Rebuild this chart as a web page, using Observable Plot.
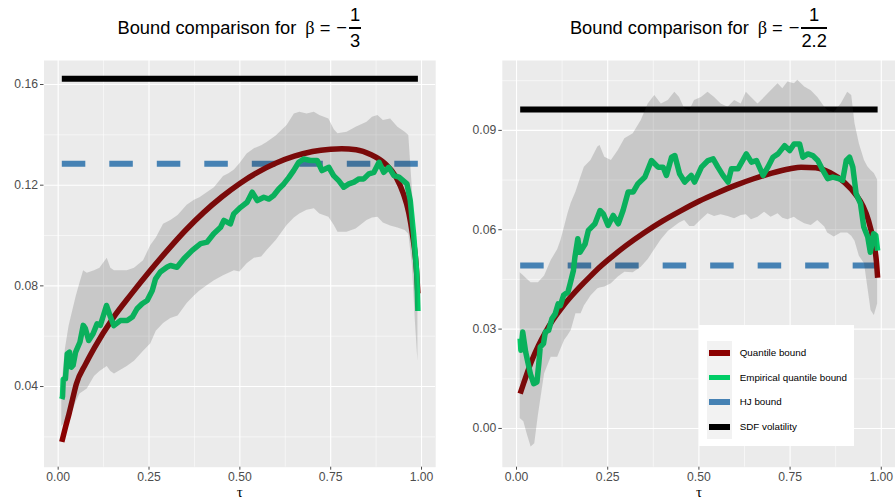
<!DOCTYPE html>
<html><head><meta charset="utf-8">
<script src="https://cdn.jsdelivr.net/npm/d3@7"></script>
<script src="https://cdn.jsdelivr.net/npm/@observablehq/plot@0.6"></script>
<style>
body{margin:0;background:#fff;font-family:"Liberation Sans",Arial,sans-serif;}
#wrap{position:relative;width:895px;height:501px;overflow:hidden;background:#fff}
.title{position:absolute;top:0;height:56px;display:flex;justify-content:center;align-items:center;font-size:18.3px;color:#000;white-space:nowrap}
.sym{font-family:"Liberation Serif","DejaVu Serif",serif;margin-left:9px}
.eq{margin-left:5px}
.minus{margin-left:6px}
.frac{display:inline-flex;flex-direction:column;align-items:center;margin-left:2px}
.frac .num{line-height:1;padding:0 1px 3px}
.frac .bar{align-self:stretch;height:1.2px;background:#000}
.frac .den{line-height:1;padding-top:3px}
.plot{position:absolute;top:60px}
#legend{position:absolute;left:699px;top:325px;width:155px;height:121px;background:#fff}
#legend .keycol{position:absolute;left:8px;top:15.7px;width:25px;height:98px;background:#F2F2F2}
#legend .key{position:absolute;left:10px;width:21px;height:5.5px}
#legend .lab{position:absolute;left:40.7px;font-size:9.8px;line-height:12px;color:#000;white-space:nowrap}
</style>
</head><body>
<div id="wrap">
  <div class="title" id="t1" style="left:43.5px;width:391.7px"></div>
  <div class="title" id="t2" style="left:501.8px;width:393.2px"></div>
  <div class="plot" id="p1" style="left:0"></div>
  <div class="plot" id="p2" style="left:447px"></div>
  <div id="legend"><div class="keycol"></div></div>
</div>
<script>
// ---------- data ----------
const titleText = "Bound comparison for";
const betaDenoms = ["3", "2.2"];
const xTicks = [0, 0.25, 0.5, 0.75, 1];
const xMinor = [0.125, 0.375, 0.625, 0.875];
const tauRange = [0.01, 0.99];

const yTicksL = [0.04, 0.08, 0.12, 0.16];
const yMinorL = [0.02, 0.06, 0.10, 0.14];
const yTicksR = [0.00, 0.03, 0.06, 0.09];
const yMinorR = [0.015, 0.045, 0.075, 0.105];

const sdfLeft = 0.1623, hjLeft = 0.1285;
const sdfRight = 0.0963, hjRight = 0.0492;

const legendItems = ["Quantile bound", "Empirical quantile bound", "HJ bound", "SDF volatility"];
const legendColors = ["#8B0000", "#00CD66", "#4682B4", "#000000"];

const quantileLeft = [[0.01,0.018],[0.02,0.0238],[0.03,0.0292],[0.04,0.0352],[0.05,0.041],[0.075,0.0488],[0.10,0.0555],[0.15,0.067],[0.20,0.0765],[0.25,0.0855],[0.30,0.094],[0.35,0.102],[0.40,0.1091],[0.45,0.1153],[0.50,0.1207],[0.55,0.1252],[0.60,0.1288],[0.65,0.1315],[0.70,0.1334],[0.75,0.1343],[0.78,0.1345],[0.82,0.1341],[0.86,0.1322],[0.90,0.1285],[0.93,0.1232],[0.95,0.1166],[0.965,0.109],[0.975,0.1005],[0.985,0.0885],[0.99,0.077]];

const empiricalLeft = [[0.01,0.035],[0.012,0.036],[0.014,0.0429],[0.02,0.0431],[0.025,0.053],[0.031,0.0537],[0.036,0.0477],[0.041,0.0484],[0.048,0.0537],[0.06,0.0577],[0.069,0.0643],[0.075,0.063],[0.084,0.0583],[0.096,0.061],[0.107,0.0649],[0.116,0.0643],[0.126,0.0689],[0.133,0.0722],[0.144,0.0676],[0.153,0.0642],[0.171,0.0662],[0.19,0.0662],[0.204,0.0676],[0.217,0.0709],[0.231,0.0729],[0.245,0.0742],[0.259,0.0782],[0.268,0.0828],[0.281,0.0855],[0.30,0.0875],[0.309,0.0881],[0.327,0.0874],[0.346,0.0908],[0.369,0.0941],[0.392,0.0968],[0.41,0.0974],[0.428,0.1007],[0.447,0.1033],[0.456,0.106],[0.474,0.1046],[0.483,0.1086],[0.502,0.1112],[0.52,0.1132],[0.534,0.1172],[0.548,0.1139],[0.566,0.1152],[0.58,0.1145],[0.593,0.1159],[0.607,0.1185],[0.621,0.1205],[0.635,0.1231],[0.648,0.1258],[0.662,0.1291],[0.676,0.1304],[0.694,0.1298],[0.713,0.1298],[0.726,0.1258],[0.745,0.1271],[0.758,0.1238],[0.772,0.1218],[0.786,0.1192],[0.80,0.1205],[0.814,0.1212],[0.828,0.1225],[0.841,0.1225],[0.855,0.1245],[0.869,0.1251],[0.883,0.1291],[0.896,0.1251],[0.91,0.1271],[0.924,0.1238],[0.938,0.1232],[0.96,0.1205],[0.969,0.1139],[0.978,0.1007],[0.987,0.0848],[0.99,0.070]];

// [tau, lower, upper]
const ribbonLeft = [[0.01,0.024,0.040],[0.02,0.026,0.055],[0.03,0.027,0.064],[0.04,0.030,0.070],[0.05,0.034,0.076],[0.06,0.037,0.081],[0.07,0.038,0.086],[0.08,0.039,0.085],[0.10,0.044,0.086],[0.115,0.046,0.087],[0.135,0.048,0.091],[0.145,0.046,0.087],[0.155,0.045,0.086],[0.19,0.048,0.086],[0.21,0.050,0.087],[0.235,0.054,0.090],[0.255,0.057,0.096],[0.27,0.062,0.099],[0.29,0.065,0.1045],[0.31,0.067,0.106],[0.33,0.068,0.108],[0.355,0.073,0.112],[0.375,0.076,0.114],[0.39,0.078,0.115],[0.41,0.080,0.117],[0.43,0.082,0.119],[0.455,0.084,0.1235],[0.47,0.085,0.1245],[0.485,0.086,0.126],[0.50,0.0855,0.1285],[0.52,0.0888,0.1324],[0.54,0.091,0.1345],[0.56,0.0915,0.1357],[0.575,0.094,0.137],[0.60,0.098,0.1395],[0.63,0.104,0.1437],[0.65,0.107,0.1483],[0.665,0.1086,0.149],[0.685,0.110,0.1483],[0.705,0.1106,0.149],[0.72,0.1086,0.1477],[0.745,0.1073,0.1463],[0.76,0.104,0.142],[0.77,0.1013,0.1404],[0.795,0.1013,0.141],[0.82,0.1026,0.143],[0.85,0.106,0.145],[0.865,0.107,0.147],[0.88,0.1073,0.1477],[0.895,0.105,0.1457],[0.915,0.1038,0.1463],[0.935,0.103,0.143],[0.955,0.102,0.141],[0.965,0.1005,0.1397],[0.975,0.088,0.118],[0.983,0.066,0.095],[0.99,0.050,0.078]];

const quantileRight = [[0.01,0.0105],[0.02,0.0138],[0.04,0.020],[0.06,0.025],[0.08,0.0292],[0.10,0.0328],[0.125,0.0366],[0.15,0.0399],[0.175,0.0429],[0.20,0.0457],[0.23,0.0489],[0.262,0.0519],[0.30,0.0552],[0.35,0.0591],[0.40,0.0626],[0.45,0.0657],[0.50,0.0686],[0.55,0.0711],[0.60,0.0734],[0.65,0.0754],[0.70,0.0771],[0.75,0.0784],[0.78,0.0789],[0.82,0.0787],[0.86,0.0772],[0.90,0.0742],[0.93,0.0706],[0.95,0.0671],[0.965,0.0628],[0.978,0.0568],[0.987,0.0500],[0.99,0.0455]];

const empiricalRight = [[0.01,0.0271],[0.012,0.0236],[0.017,0.0291],[0.025,0.0231],[0.038,0.0165],[0.047,0.0135],[0.056,0.014],[0.061,0.0195],[0.065,0.0246],[0.074,0.0256],[0.079,0.0291],[0.088,0.0296],[0.097,0.0331],[0.106,0.0346],[0.114,0.0376],[0.12,0.0371],[0.129,0.0402],[0.141,0.0412],[0.147,0.0437],[0.156,0.0477],[0.160,0.0517],[0.168,0.0573],[0.174,0.0532],[0.188,0.0557],[0.197,0.0598],[0.215,0.0618],[0.229,0.0658],[0.238,0.0648],[0.251,0.0613],[0.265,0.0643],[0.279,0.0618],[0.292,0.0658],[0.306,0.0714],[0.32,0.0714],[0.333,0.0739],[0.352,0.0759],[0.37,0.0809],[0.388,0.0789],[0.402,0.0789],[0.411,0.0764],[0.425,0.0819],[0.434,0.0824],[0.447,0.0769],[0.461,0.0744],[0.479,0.0764],[0.488,0.0744],[0.507,0.0789],[0.525,0.0809],[0.539,0.0814],[0.552,0.0789],[0.566,0.0764],[0.58,0.0744],[0.589,0.0784],[0.607,0.0784],[0.63,0.0829],[0.644,0.0804],[0.658,0.0809],[0.676,0.0764],[0.689,0.0789],[0.703,0.0819],[0.717,0.0829],[0.735,0.0854],[0.749,0.0839],[0.761,0.0859],[0.776,0.0859],[0.785,0.0819],[0.799,0.0829],[0.812,0.0824],[0.826,0.0809],[0.84,0.0779],[0.853,0.0754],[0.867,0.0759],[0.885,0.0754],[0.894,0.0749],[0.904,0.0809],[0.913,0.0819],[0.922,0.0789],[0.931,0.0709],[0.943,0.0679],[0.952,0.0608],[0.963,0.0578],[0.97,0.0532],[0.979,0.0588],[0.985,0.0583],[0.99,0.0537]];

const ribbonRight = [[0.01,0.003,0.047],[0.02,0.002,0.046],[0.03,-0.002,0.045],[0.04,-0.0056,0.044],[0.05,-0.0046,0.044],[0.06,0.004,0.044],[0.077,0.0165,0.046],[0.095,0.0215,0.0507],[0.113,0.0215,0.054],[0.122,0.024,0.0568],[0.132,0.0266,0.061],[0.141,0.028,0.0648],[0.15,0.0296,0.068],[0.163,0.0346,0.0714],[0.177,0.0346,0.076],[0.186,0.037,0.0789],[0.196,0.0386,0.080],[0.204,0.040,0.0809],[0.223,0.0422,0.085],[0.229,0.0424,0.0854],[0.242,0.0427,0.0819],[0.26,0.0437,0.0809],[0.279,0.0457,0.0839],[0.297,0.0472,0.0875],[0.32,0.047,0.089],[0.342,0.0487,0.093],[0.361,0.051,0.098],[0.379,0.054,0.1005],[0.397,0.057,0.098],[0.416,0.0595,0.099],[0.434,0.061,0.1015],[0.447,0.062,0.0999],[0.461,0.0628,0.0965],[0.475,0.061,0.096],[0.488,0.061,0.099],[0.507,0.063,0.0999],[0.525,0.0648,0.1015],[0.543,0.064,0.0999],[0.561,0.0645,0.098],[0.58,0.064,0.097],[0.598,0.0633,0.099],[0.616,0.0643,0.098],[0.63,0.0645,0.1015],[0.644,0.063,0.0999],[0.662,0.0638,0.098],[0.68,0.0653,0.0999],[0.698,0.0638,0.102],[0.717,0.0648,0.1041],[0.73,0.0635,0.1026],[0.744,0.063,0.1046],[0.762,0.0638,0.1041],[0.771,0.063,0.1051],[0.79,0.0618,0.1031],[0.808,0.0613,0.102],[0.826,0.0628,0.0999],[0.845,0.0608,0.097],[0.853,0.059,0.096],[0.871,0.0578,0.0955],[0.89,0.059,0.098],[0.908,0.059,0.1015],[0.919,0.058,0.1005],[0.928,0.0565,0.092],[0.94,0.052,0.0859],[0.954,0.0497,0.0809],[0.963,0.0427,0.079],[0.972,0.0356,0.0779],[0.981,0.0341,0.077],[0.99,0.0376,0.075]];

// ---------- drawing ----------
const fmt = d3.format(".2f");
function panel(o) {
  return Plot.plot({
    width: o.width, height: 441,
    marginLeft: o.marginLeft, marginRight: o.marginRight, marginTop: 0, marginBottom: 34.3,
    x: {domain: [-0.039, 1.039]},
    y: {domain: o.yDomain},
    style: {fontFamily: '"Liberation Sans", Arial, sans-serif', fontSize: "12.2px", background: "transparent", overflow: "visible"},
    marks: [
      Plot.frame({fill: "#EBEBEB", stroke: null}),
      Plot.ruleX(xMinor, {stroke: "#fff", strokeWidth: 0.55}),
      Plot.ruleY(o.yMinor, {stroke: "#fff", strokeWidth: 0.55}),
      Plot.ruleX(xTicks, {stroke: "#fff", strokeWidth: 1.1}),
      Plot.ruleY(o.yTicks, {stroke: "#fff", strokeWidth: 1.1}),
      Plot.line(tauRange, {x: d => d, y: () => o.sdf, stroke: "#000", strokeWidth: 6, strokeLinecap: "butt"}),
      Plot.line(tauRange, {x: d => d, y: () => o.hj, stroke: "#4682B4", strokeWidth: 6, strokeLinecap: "butt", strokeDasharray: "23.5,24"}),
      Plot.line(o.quantile, {x: d => d[0], y: d => d[1], stroke: "#8B0000", strokeWidth: 5.5, strokeLinecap: "butt", curve: "monotone-x"}),
      Plot.line(o.empirical, {x: d => d[0], y: d => d[1], stroke: "#00CD66", strokeWidth: 5.5, strokeLinecap: "butt", strokeLinejoin: "round"}),
      Plot.areaY(o.ribbon, {x: d => d[0], y1: d => d[1], y2: d => d[2], fill: "#333333", fillOpacity: 0.19}),
      Plot.axisX(xTicks, {tickSize: 3, tickPadding: 2, tickFormat: fmt, color: "#4D4D4D", label: null}),
      Plot.axisY(o.yTicks, {tickSize: 3.5, tickPadding: 2.5, tickFormat: fmt, color: "#4D4D4D", label: null}),
      Plot.text(["τ"], {text: d => d, frameAnchor: "bottom", dy: 30, lineAnchor: "bottom", fontSize: 15, fontFamily: '"Liberation Serif", "DejaVu Serif", serif', fill: "#000"})
    ]
  });
}

document.getElementById("p1").appendChild(panel({
  width: 447, marginLeft: 43.5, marginRight: 11.8,
  yDomain: [0.00795, 0.16954], yTicks: yTicksL, yMinor: yMinorL,
  sdf: sdfLeft, hj: hjLeft, quantile: quantileLeft, empirical: empiricalLeft, ribbon: ribbonLeft
}));
document.getElementById("p2").appendChild(panel({
  width: 448, marginLeft: 54.8, marginRight: 0,
  yDomain: [-0.0117, 0.1111], yTicks: yTicksR, yMinor: yMinorR,
  sdf: sdfRight, hj: hjRight, quantile: quantileRight, empirical: empiricalRight, ribbon: ribbonRight
}));

// titles
["t1", "t2"].forEach((id, i) => {
  const el = document.getElementById(id);
  el.innerHTML = `<span>${titleText}</span><span class="sym">β</span><span class="eq">=</span><span class="minus">−</span>` +
    `<span class="frac"><span class="num">1</span><span class="bar"></span><span class="den">${betaDenoms[i]}</span></span>`;
});

// legend
const leg = document.getElementById("legend");
legendItems.forEach((name, i) => {
  const cy = 28 + i * 24.6;
  const k = document.createElement("div");
  k.className = "key"; k.style.top = (cy - 2.75) + "px"; k.style.background = legendColors[i];
  leg.appendChild(k);
  const l = document.createElement("div");
  l.className = "lab"; l.style.top = (cy - 6) + "px"; l.textContent = name;
  leg.appendChild(l);
});
</script>
</body></html>
